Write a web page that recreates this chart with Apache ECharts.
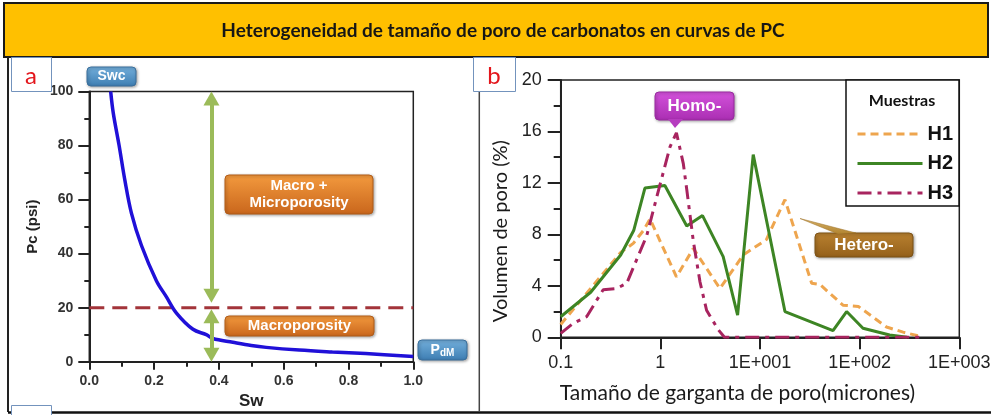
<!DOCTYPE html>
<html><head><meta charset="utf-8">
<script src="https://cdn.jsdelivr.net/npm/echarts@6/dist/echarts.min.js"></script>
<style>html,body{margin:0;padding:0;background:#fff}#c{width:991px;height:415px}</style>
</head><body><div id="c"></div>
<script>
// ---------- text ----------
const titleText = 'Heterogeneidad de tamaño de poro de carbonatos en curvas de PC';
// ---------- panel a : capillary pressure curve ----------
const swValues = [0.066,0.074,0.092,0.110,0.130,0.161,0.207,0.238,0.269,0.320,0.361,0.381,0.443,0.500,0.546,0.648,0.750,0.853,1.000];
const pcValues = [100,92,80,67,55,43,30,24,18,12,10,8.6,7.2,6.0,5.3,4.3,3.6,3.0,1.9];
const pcThreshold = 20;
const arrowSw = 0.377;
const upperArrow = [97.4, 24.4];
const lowerArrow = [16.8, 2.6];
// ---------- panel b : pore throat size distributions ----------
const seriesNames = ['H1','H2','H3'];
const h1Size = [0.1,0.2,0.4,0.535,0.676,0.787,1.45,2.14,3.96,6.8,11.6,17.8,33,40,68,97,186,273,417];
const h1Vol  = [1.0,3.8,6.6,7.3,8.3,9.2,4.7,6.9,3.8,6.4,7.6,10.7,4.2,4.1,2.5,2.4,0.8,0.4,0.05];
const h2Size = [0.1,0.2,0.4,0.54,0.70,1.11,1.84,2.65,4.27,5.96,8.55,17.8,54,74,108,200,300];
const h2Vol  = [1.6,3.5,6.4,8.3,11.6,11.8,8.65,9.46,6.27,1.73,14.2,2.0,0.52,2.0,0.7,0.18,0];
const h3Size = [0.1,0.134,0.182,0.267,0.365,0.46,0.73,0.92,1.25,1.45,1.70,1.84,2.14,2.5,2.91,3.8,4.4,420];
const h3Vol  = [0.3,1.1,1.6,3.7,3.8,4.2,7.9,10.9,14.8,15.9,13.5,11.5,7.5,4.3,2.1,0.6,0,0];
// ---------- tick labels ----------
const logTickLabels = {'-1':'0.1','0':'1','1':'1E+001','2':'1E+002','3':'1E+003'};

const zip = (a,b) => a.map((v,i)=>[v,b[i]]);
const SANS = '"Liberation Sans", Arial, sans-serif';
const HUM = 'Lato, "Open Sans", sans-serif';

const chart = echarts.init(document.getElementById('c'), null, {renderer:'canvas', width:991, height:415});

function grad(c1,c2){return new echarts.graphic.LinearGradient(0,0,0,1,[{offset:0,color:c1},{offset:1,color:c2}]);}
function tag(x,y,w,h,text,c1,c2,stroke,fs,lh){
  return {type:'group', x:x, y:y, z:60, children:[
    {type:'rect', shape:{x:0,y:0,width:w,height:h,r:4},
     style:{fill:grad(c1,c2), stroke:stroke, lineWidth:1, shadowBlur:3, shadowColor:'rgba(0,0,0,0.35)', shadowOffsetX:1, shadowOffsetY:1}},
    {type:'text', x:w/2, y:h/2, style:{text:text, fill:'#fff', fontFamily:SANS, fontWeight:'bold', fontSize:fs, lineHeight:lh||fs+2, align:'center', verticalAlign:'middle'}}
  ]};
}

const graphics = [
  // title band
  {type:'rect', z:1, shape:{x:4,y:3,width:984,height:54}, style:{fill:'#FFC000', stroke:'#1a1a1a', lineWidth:2}},
  {type:'text', z:2, x:503, y:31, style:{text:titleText, fill:'#161616', fontFamily:HUM, fontWeight:'bold', fontSize:19, align:'center', verticalAlign:'middle'}},
  // frames
  {type:'line', z:2, shape:{x1:8,y1:57,x2:8,y2:412}, style:{stroke:'#222', lineWidth:2}},
  {type:'line', z:2, shape:{x1:8,y1:412.5,x2:991,y2:412.5}, style:{stroke:'#111', lineWidth:2.5}},
  {type:'line', z:2, shape:{x1:479.3,y1:92,x2:479.3,y2:412}, style:{stroke:'#444', lineWidth:1.5}},
  // panel label boxes
  {type:'rect', z:3, shape:{x:11.5,y:57.5,width:40,height:34}, style:{fill:'#fff', stroke:'#7393bd', lineWidth:1}},
  {type:'text', z:4, x:31, y:76, style:{text:'a', fill:'#e3161c', fontFamily:HUM, fontSize:24, align:'center', verticalAlign:'middle'}},
  {type:'rect', z:3, shape:{x:473.5,y:57.5,width:42,height:34}, style:{fill:'#fff', stroke:'#7393bd', lineWidth:1}},
  {type:'text', z:4, x:494, y:76, style:{text:'b', fill:'#e3161c', fontFamily:HUM, fontSize:24, align:'center', verticalAlign:'middle'}},
  {type:'rect', z:3, shape:{x:11.5,y:405.5,width:40,height:12}, style:{fill:'#fff', stroke:'#7393bd', lineWidth:1}},
  // panel a annotations
  tag(87,67,49,19,'Swc','#74b0dc','#3d7db2','#3a6f9c',14),
  {type:'group', x:418, y:340, z:60, children:[
    {type:'rect', shape:{x:0,y:0,width:49,height:20,r:4}, style:{fill:grad('#74b0dc','#3d7db2'), stroke:'#3a6f9c', lineWidth:1, shadowBlur:3, shadowColor:'rgba(0,0,0,0.35)', shadowOffsetX:1, shadowOffsetY:1}},
    {type:'text', x:24.5, y:10, style:{text:'{p|P}{s|dM}', align:'center', verticalAlign:'middle', rich:{p:{fill:'#fff', fontFamily:SANS, fontWeight:'bold', fontSize:14}, s:{fill:'#fff', fontFamily:SANS, fontWeight:'bold', fontSize:10, padding:[6,0,0,0]}}}}
  ]},
  tag(225,175,148,39,'Macro +\nMicroporosity','#f39a3e','#c9661c','#b35c17',15,17),
  tag(225,316,149,20,'Macroporosity','#f39a3e','#c9661c','#b35c17',15),
  // panel b annotations
  {type:'polygon', z:59, shape:{points:[[668,119],[683,119],[675,128]]}, style:{fill:'#b63cbf'}},
  tag(655,92,79,28,'Homo-','#d452dc','#aa2eb2','#9a2aa0',17),
  {type:'polygon', z:59, shape:{points:[[800,218.5],[856,233],[838,234]]}, style:{fill:grad('#d9b46a','#b0822e'), stroke:'#9c7028', lineWidth:0.5}},
  tag(815,233,98,24,'Hetero-','#b98130','#94601a','#7d5215',17),
  // legend frame
  {type:'rect', z:3, shape:{x:846,y:80,width:113,height:126}, style:{fill:'#fff', stroke:'#111', lineWidth:1.5}},
  {type:'text', z:5, x:902, y:101, style:{text:'Muestras', fill:'#111', fontFamily:HUM, fontWeight:'bold', fontSize:16, align:'center', verticalAlign:'middle'}}
];

const option = {
  animation:false,
  backgroundColor:'#fff',
  grid:[
    {left:89.3, top:91.5, width:324, height:270.2, show:true, borderColor:'#222', borderWidth:1.5, backgroundColor:'rgba(0,0,0,0)', containLabel:false, outerBoundsMode:'none'},
    {left:560.7, top:80, width:398.6, height:257.3, show:true, borderColor:'#222', borderWidth:1.5, backgroundColor:'rgba(0,0,0,0)', containLabel:false, outerBoundsMode:'none'}
  ],
  xAxis:[
    {gridIndex:0, type:'value', min:0, max:1, interval:0.2,
     name:'Sw', nameLocation:'middle', nameGap:26,
     nameTextStyle:{fontFamily:SANS, fontWeight:'bold', fontSize:17, color:'#222'},
     axisLine:{show:true, onZero:false, lineStyle:{color:'#222', width:2}},
     axisTick:{show:true, length:8, lineStyle:{color:'#222', width:2}},
     minorTick:{show:true, splitNumber:2, length:5, lineStyle:{color:'#222', width:2}},
     axisLabel:{margin:12, formatter:v=>v.toFixed(1), fontFamily:SANS, fontWeight:'bold', fontSize:14, color:'#333'},
     splitLine:{show:false}, minorSplitLine:{show:false}},
    {gridIndex:1, type:'log', logBase:10, min:0.1, max:1000,
     name:'Tamaño de garganta de poro(micrones)', nameLocation:'middle', nameGap:45,
     nameTextStyle:{fontFamily:HUM, fontSize:21, color:'#1a1a1a', padding:[0,45,0,0]},
     axisLine:{show:true, onZero:false, lineStyle:{color:'#222', width:2}},
     axisTick:{show:true, length:12, lineStyle:{color:'#222', width:2}},
     minorTick:{show:false},
     axisLabel:{margin:17, showMinLabel:true, showMaxLabel:true, hideOverlap:false,
       formatter:v=>logTickLabels[String(Math.round(Math.log10(v)))],
       fontFamily:SANS, fontSize:18, color:'#222'},
     splitLine:{show:false}, minorSplitLine:{show:false}}
  ],
  yAxis:[
    {gridIndex:0, type:'value', min:0, max:100, interval:20,
     name:'Pc (psi)', nameLocation:'middle', nameGap:49,
     nameTextStyle:{fontFamily:SANS, fontWeight:'bold', fontSize:15, color:'#222'},
     axisLine:{show:true, onZero:false, lineStyle:{color:'#222', width:2}},
     axisTick:{show:true, length:11, lineStyle:{color:'#222', width:2}},
     minorTick:{show:true, splitNumber:2, length:5, lineStyle:{color:'#222', width:2}},
     axisLabel:{margin:16, fontFamily:SANS, fontWeight:'bold', fontSize:14, color:'#333'},
     splitLine:{show:false}, minorSplitLine:{show:false}},
    {gridIndex:1, type:'value', min:0, max:20, interval:4,
     name:'Volumen de poro (%)', nameLocation:'middle', nameGap:50,
     nameTextStyle:{fontFamily:HUM, fontSize:20, color:'#1a1a1a', padding:[0,45,0,0]},
     axisLine:{show:true, onZero:false, lineStyle:{color:'#222', width:2}},
     axisTick:{show:true, length:13, lineStyle:{color:'#222', width:2}},
     minorTick:{show:true, splitNumber:2, length:7, lineStyle:{color:'#222', width:2}},
     axisLabel:{margin:19, fontFamily:SANS, fontSize:18, color:'#222'},
     splitLine:{show:false}, minorSplitLine:{show:false}}
  ],
  legend:{
    data:seriesNames, orient:'vertical', left:851, top:119, itemWidth:65, itemHeight:20, itemGap:9.5,
    selectedMode:false, z:6,
    itemStyle:{color:'rgba(0,0,0,0)', borderWidth:0, borderColor:'rgba(0,0,0,0)'},
    lineStyle:{width:3, type:'inherit', color:'inherit'},
    textStyle:{fontFamily:'"Liberation Sans Narrow", "Liberation Sans", Arial', fontWeight:'bold', fontSize:20, color:'#111'}
  },
  graphic:{elements:graphics},
  series:[
    {type:'line', name:'Pc', xAxisIndex:0, yAxisIndex:0, data:zip(swValues,pcValues), smooth:0.35, symbol:'none',
     lineStyle:{color:'#2010d8', width:3.5}, z:4, silent:true},
    {type:'line', name:'umbral', xAxisIndex:0, yAxisIndex:0, data:[[0,pcThreshold],[1,pcThreshold]], symbol:'none',
     lineStyle:{color:'#a3343a', width:3, type:[15,8]}, z:3, silent:true},
    {type:'line', name:'flechas', xAxisIndex:0, yAxisIndex:0, data:[], symbol:'none', silent:true,
     markLine:{silent:true, symbol:['triangle','triangle'], symbolSize:[16,14], label:{show:false},
       lineStyle:{color:'#9bbb59', width:4, type:'solid'}, emphasis:{disabled:true},
       data:[
         [{coord:[arrowSw,upperArrow[0]]},{coord:[arrowSw,upperArrow[1]]}],
         [{coord:[arrowSw,lowerArrow[0]]},{coord:[arrowSw,lowerArrow[1]]}]
       ]}},
    {type:'line', name:seriesNames[0], xAxisIndex:1, yAxisIndex:1, data:zip(h1Size,h1Vol), symbol:'none',
     itemStyle:{color:'#eea54e'}, lineStyle:{color:'#eea54e', width:3, type:[8,5]}, z:3},
    {type:'line', name:seriesNames[1], xAxisIndex:1, yAxisIndex:1, data:zip(h2Size,h2Vol), symbol:'none',
     itemStyle:{color:'#3d8524'}, lineStyle:{color:'#3d8524', width:3, type:'solid'}, z:3},
    {type:'line', name:seriesNames[2], xAxisIndex:1, yAxisIndex:1, data:zip(h3Size,h3Vol), symbol:'none',
     itemStyle:{color:'#a8245f'}, lineStyle:{color:'#a8245f', width:3, type:[14,6,4,6]}, z:3}
  ]
};
chart.setOption(option);
</script>
</body></html>
